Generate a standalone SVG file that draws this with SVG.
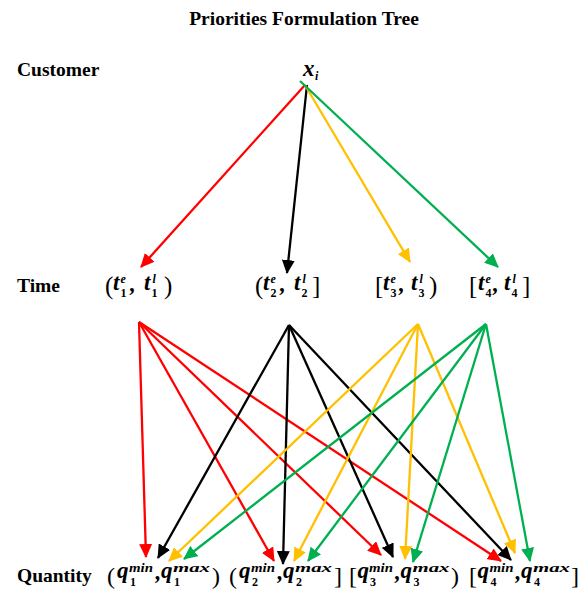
<svg xmlns="http://www.w3.org/2000/svg" width="579" height="590" viewBox="0 0 579 590">
<style>
.hd{font-family:"Liberation Serif","Times New Roman",serif;font-weight:bold;font-size:19.5px;fill:#000}
.m{font-family:"Liberation Serif","Times New Roman",serif;font-weight:bold;font-style:italic;font-size:23px;fill:#000}
.ms{font-family:"Liberation Serif","Times New Roman",serif;font-weight:bold;font-style:italic;font-size:12px;fill:#000}
.md{font-family:"Liberation Serif","Times New Roman",serif;font-weight:bold;font-size:12px;fill:#000}
.p{font-family:"Liberation Serif","Times New Roman",serif;font-size:25px;fill:#000}
.pq{font-family:"Liberation Serif","Times New Roman",serif;font-size:24px;fill:#000}
.r{stroke:#FF0000;stroke-width:2.3;fill:none;marker-end:url(#mr)}
.k{stroke:#000000;stroke-width:2.3;fill:none;marker-end:url(#mk)}
.y{stroke:#FFC000;stroke-width:2.3;fill:none;marker-end:url(#my)}
.g{stroke:#00B050;stroke-width:2.3;fill:none;marker-end:url(#mg)}
</style>
<defs>
<marker id="mr" viewBox="0 0 14 13" refX="13" refY="6.5" markerWidth="14" markerHeight="13" markerUnits="userSpaceOnUse" orient="auto"><path d="M0,0 L14,6.5 L0,13 z" fill="#FF0000"/></marker>
<marker id="mk" viewBox="0 0 14 13" refX="13" refY="6.5" markerWidth="14" markerHeight="13" markerUnits="userSpaceOnUse" orient="auto"><path d="M0,0 L14,6.5 L0,13 z" fill="#000000"/></marker>
<marker id="my" viewBox="0 0 14 13" refX="13" refY="6.5" markerWidth="14" markerHeight="13" markerUnits="userSpaceOnUse" orient="auto"><path d="M0,0 L14,6.5 L0,13 z" fill="#FFC000"/></marker>
<marker id="mg" viewBox="0 0 14 13" refX="13" refY="6.5" markerWidth="14" markerHeight="13" markerUnits="userSpaceOnUse" orient="auto"><path d="M0,0 L14,6.5 L0,13 z" fill="#00B050"/></marker>
</defs>
<rect width="579" height="590" fill="#fff"/>

<g id="title"><text class="hd" x="304" y="25" text-anchor="middle">Priorities Formulation Tree</text></g>
<g id="label-customer"><text class="hd" x="17" y="76">Customer</text></g>
<g id="label-time"><text class="hd" x="17" y="292">Time</text></g>
<g id="label-quantity"><text class="hd" x="17" y="582">Quantity</text></g>

<g id="node-x">
<text class="m" x="303" y="76">x</text><text class="ms" x="315" y="80">i</text>
</g>

<g id="node-t1">
<text class="p" x="105" y="294">(</text>
<text class="m" x="113" y="290">t</text><text class="ms" x="120.5" y="283">e</text><text class="md" x="120.5" y="297">1</text>
<text class="m" x="130" y="291">,</text>
<text class="m" x="144" y="290">t</text><text class="ms" x="152.5" y="283">l</text><text class="md" x="151.5" y="297">1</text>
<text class="p" x="164" y="294">)</text>
</g>
<g id="node-t2">
<text class="p" x="255" y="294">(</text>
<text class="m" x="263" y="290">t</text><text class="ms" x="270.5" y="283">e</text><text class="md" x="270.5" y="297">2</text>
<text class="m" x="280" y="291">,</text>
<text class="m" x="294" y="290">t</text><text class="ms" x="302.5" y="283">l</text><text class="md" x="301.5" y="297">2</text>
<text class="p" x="312" y="294">]</text>
</g>
<g id="node-t3">
<text class="p" x="375" y="294">[</text>
<text class="m" x="383" y="290">t</text><text class="ms" x="390.5" y="283">e</text><text class="md" x="390.5" y="297">3</text>
<text class="m" x="399" y="291">,</text>
<text class="m" x="411" y="290">t</text><text class="ms" x="419.5" y="283">l</text><text class="md" x="418.5" y="297">3</text>
<text class="p" x="429" y="294">)</text>
</g>
<g id="node-t4">
<text class="p" x="469" y="294">[</text>
<text class="m" x="478" y="290">t</text><text class="ms" x="485.5" y="283">e</text><text class="md" x="485.5" y="297">4</text>
<text class="m" x="493" y="291">,</text>
<text class="m" x="504" y="290">t</text><text class="ms" x="512.5" y="283">l</text><text class="md" x="511.5" y="297">4</text>
<text class="p" x="522" y="294">]</text>
</g>

<g id="node-q1">
<text class="pq" x="107" y="584">(</text>
<text class="m" x="117" y="578">q</text><text class="ms" x="129" y="572" textLength="24" lengthAdjust="spacingAndGlyphs">min</text><text class="md" x="130" y="586">1</text>
<text class="m" x="155.5" y="579">,</text>
<text class="m" x="161" y="578">q</text><text class="ms" x="173" y="572" textLength="37" lengthAdjust="spacingAndGlyphs">max</text><text class="md" x="174" y="586">1</text>
<text class="pq" x="212" y="584">)</text>
</g>
<g id="node-q2">
<text class="pq" x="229" y="584">(</text>
<text class="m" x="239" y="578">q</text><text class="ms" x="251" y="572" textLength="24" lengthAdjust="spacingAndGlyphs">min</text><text class="md" x="252" y="586">2</text>
<text class="m" x="277.5" y="579">,</text>
<text class="m" x="283" y="578">q</text><text class="ms" x="295" y="572" textLength="37" lengthAdjust="spacingAndGlyphs">max</text><text class="md" x="296" y="586">2</text>
<text class="pq" x="334" y="584">]</text>
</g>
<g id="node-q3">
<text class="pq" x="349" y="584">[</text>
<text class="m" x="357.5" y="578">q</text><text class="ms" x="369" y="572" textLength="24" lengthAdjust="spacingAndGlyphs">min</text><text class="md" x="370" y="586">3</text>
<text class="m" x="395" y="579">,</text>
<text class="m" x="400.5" y="578">q</text><text class="ms" x="412.5" y="572" textLength="37" lengthAdjust="spacingAndGlyphs">max</text><text class="md" x="413.5" y="586">3</text>
<text class="pq" x="451" y="584">)</text>
</g>
<g id="node-q4">
<text class="pq" x="469" y="584">[</text>
<text class="m" x="477.5" y="578">q</text><text class="ms" x="489.5" y="572" textLength="24" lengthAdjust="spacingAndGlyphs">min</text><text class="md" x="490.5" y="586">4</text>
<text class="m" x="515.5" y="579">,</text>
<text class="m" x="521" y="578">q</text><text class="ms" x="533" y="572" textLength="37" lengthAdjust="spacingAndGlyphs">max</text><text class="md" x="534" y="586">4</text>
<text class="pq" x="571" y="584">]</text>
</g>

<g id="connectors">
<line class="r" x1="305" y1="85" x2="141" y2="267"/>
<line class="k" x1="307" y1="85" x2="287" y2="273"/>
<line class="y" x1="305" y1="85" x2="410" y2="262"/>
<line class="g" x1="300" y1="81" x2="498" y2="267"/>

<line class="r" x1="139" y1="322" x2="146" y2="557"/>
<line class="r" x1="139" y1="322" x2="274" y2="561"/>
<line class="r" x1="139" y1="322" x2="381" y2="555"/>
<line class="r" x1="139" y1="322" x2="501" y2="561"/>

<line class="k" x1="289" y1="325" x2="158" y2="558"/>
<line class="k" x1="289" y1="325" x2="283" y2="564"/>
<line class="k" x1="289" y1="325" x2="393" y2="557"/>
<line class="k" x1="289" y1="325" x2="511" y2="560"/>

<line class="y" x1="418" y1="324" x2="169" y2="561"/>
<line class="y" x1="418" y1="324" x2="294" y2="561"/>
<line class="y" x1="418" y1="324" x2="405" y2="559"/>
<line class="y" x1="418" y1="324" x2="515" y2="553"/>

<line class="g" x1="486" y1="324" x2="184" y2="559"/>
<line class="g" x1="486" y1="324" x2="308" y2="561"/>
<line class="g" x1="486" y1="324" x2="413" y2="562"/>
<line class="g" x1="486" y1="324" x2="530" y2="561"/>
</g>
</svg>
